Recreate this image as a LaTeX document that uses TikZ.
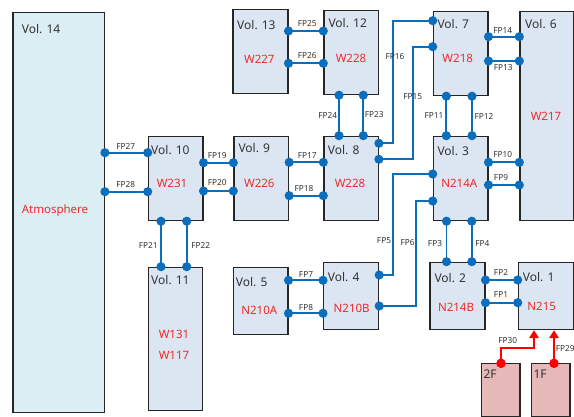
\documentclass[tikz,border=0pt]{standalone}
\usepackage{fontspec}
\setmainfont{Noto Sans}
\usetikzlibrary{arrows.meta}
\definecolor{fpblue}{HTML}{0A6EBD}
\definecolor{boxfill}{HTML}{DCE6F2}
\definecolor{atmfill}{HTML}{DAEEF3}
\definecolor{pinkfill}{HTML}{E6B9B8}
\definecolor{redtext}{HTML}{EE2A2A}
\definecolor{redline}{HTML}{FF0000}
\definecolor{labgray}{HTML}{333333}
\begin{document}
\begin{tikzpicture}[x=1pt,y=-1pt,
 vbox/.style={draw=black!85, line width=1.2pt, fill=boxfill, rectangle, anchor=north west, inner sep=0pt},
 vlab/.style={anchor=west, font=\fontsize{12}{14}\selectfont, text=black!80, inner sep=0pt},
 rlab/.style={font=\fontsize{11.5}{13}\selectfont, text=redtext, inner sep=0pt},
 fpl/.style={font=\fontsize{8.3}{10}\selectfont, text=labgray, inner sep=0pt},
 fp/.style={draw=fpblue, line width=1.9pt, {Circle[length=9pt]}-{Circle[length=9pt]}, shorten <=-4.5pt, shorten >=-4.5pt},
 ff/.style={draw=redline, line width=1.9pt, {Circle[length=9.4pt]}-{Triangle[length=8pt,width=9.5pt]}, shorten <=-4.7pt}
]
\useasboundingbox (0,0) rectangle (574,417);

% boxes
\node[vbox, fill=atmfill, minimum width=91.4pt, minimum height=399.7pt] (v14) at (12.3,12) {};
\node[vbox, minimum width=55pt, minimum height=84.3pt] (v13) at (232.3,9) {};
\node[vbox, minimum width=54.4pt, minimum height=84pt] (v12) at (323.3,10) {};
\node[vbox, minimum width=54.6pt, minimum height=84pt] (v7) at (432.7,11) {};
\node[vbox, minimum width=53.4pt, minimum height=209pt] (v6) at (519.3,11) {};
\node[vbox, minimum width=54.6pt, minimum height=84.3pt] (v10) at (147.7,135.7) {};
\node[vbox, minimum width=54.7pt, minimum height=84.3pt] (v9) at (233.3,135.7) {};
\node[vbox, minimum width=54.4pt, minimum height=84.3pt] (v8) at (323.3,135.7) {};
\node[vbox, minimum width=54.6pt, minimum height=84.3pt] (v3) at (432.7,135.7) {};
\node[vbox, minimum width=54.3pt, minimum height=143.3pt] (v11) at (147.7,266.7) {};
\node[vbox, minimum width=54.6pt, minimum height=67.6pt] (v5) at (232.7,266.7) {};
\node[vbox, minimum width=55pt, minimum height=67.3pt] (v4) at (323,261.7) {};
\node[vbox, minimum width=55pt, minimum height=67.3pt] (v2) at (429.3,261.7) {};
\node[vbox, minimum width=55pt, minimum height=67.3pt] (v1) at (517.7,261.7) {};
\node[vbox, fill=pinkfill, minimum width=38.3pt, minimum height=52.4pt] (f2) at (481,363.3) {};
\node[vbox, fill=pinkfill, minimum width=38.3pt, minimum height=52.4pt] (f1) at (531,363.3) {};

% box labels
\node[vlab] (l14) at (21.7,29) {Vol. 14};
\node[rlab] (r14) at (55,211) {Atmosphere};
\node[vlab] (l13) at (237,25) {Vol. 13};
\node[rlab] (r13) at (259.3,59.3) {W227};
\node[vlab] (l12) at (328.3,23.3) {Vol. 12};
\node[rlab] (r12) at (351,58.7) {W228};
\node[vlab] (l7) at (437.3,24.3) {Vol. 7};
\node[rlab] (r7) at (457.7,58.7) {W218};
\node[vlab] (l6) at (525,24.3) {Vol. 6};
\node[rlab] (r6) at (546,116.7) {W217};
\node[vlab] (l10) at (151,149.7) {Vol. 10};
\node[rlab] (r10) at (172,183) {W231};
\node[vlab] (l9) at (238.3,147.7) {Vol. 9};
\node[rlab] (r9) at (259.3,183.3) {W226};
\node[vlab] (l8) at (327.7,150) {Vol. 8};
\node[rlab] (r8) at (350,183.3) {W228};
\node[vlab] (l3) at (437.3,151) {Vol. 3};
\node[rlab] (r3) at (459.3,183.3) {N214A};
\node[vlab] (l11) at (151,280) {Vol. 11};
\node[rlab] (r11a) at (174,334) {W131};
\node[rlab] (r11b) at (174,355) {W117};
\node[vlab] (l5) at (235.7,281.7) {Vol. 5};
\node[rlab] (r5) at (259.3,310) {N210A};
\node[vlab] (l4) at (327.7,277.3) {Vol. 4};
\node[rlab] (r4) at (351.7,308.3) {N210B};
\node[vlab] (l2) at (434.3,278.3) {Vol. 2};
\node[rlab] (r2) at (456,307.3) {N214B};
\node[vlab] (l1) at (522.7,276.7) {Vol. 1};
\node[rlab] (r1) at (541.7,306.7) {N215};
\node[vlab] (lf2) at (483.3,374) {2F};
\node[vlab] (lf1) at (533.3,374) {1F};

% flow paths
\draw[fp] (v14.east |- 0,152.7) -- (v10.west |- 0,152.7);
\draw[fp] (v14.east |- 0,191.7) -- (v10.west |- 0,191.7);
\draw[fp] (v10.east |- 0,162.7) -- (v9.west |- 0,162.7);
\draw[fp] (v10.east |- 0,191) -- (v9.west |- 0,191);
\draw[fp] (v9.east |- 0,162.3) -- (v8.west |- 0,162.3);
\draw[fp] (v9.east |- 0,195.7) -- (v8.west |- 0,195.7);
\draw[fp] (v13.east |- 0,31) -- (v12.west |- 0,31);
\draw[fp] (v13.east |- 0,63.3) -- (v12.west |- 0,63.3);
\draw[fp] (v12.south -| 339,0) -- (v8.north -| 339,0);
\draw[fp] (v12.south -| 363.3,0) -- (v8.north -| 363.3,0);
\draw[fp] (v8.east |- 0,143.3) -- (392.7,143.3) -- (392.7,20.7) -- (v7.west |- 0,20.7);
\draw[fp] (v8.east |- 0,159.3) -- (412.7,159.3) -- (412.7,46.7) -- (v7.west |- 0,46.7);
\draw[fp] (v7.east |- 0,36.7) -- (v6.west |- 0,36.7);
\draw[fp] (v7.east |- 0,61) -- (v6.west |- 0,61);
\draw[fp] (v7.south -| 446.3,0) -- (v3.north -| 446.3,0);
\draw[fp] (v7.south -| 472,0) -- (v3.north -| 472,0);
\draw[fp] (v3.east |- 0,162.3) -- (v6.west |- 0,162.3);
\draw[fp] (v3.east |- 0,185) -- (v6.west |- 0,185);
\draw[fp] (v10.south -| 161,0) -- (v11.north -| 161,0);
\draw[fp] (v10.south -| 186.7,0) -- (v11.north -| 186.7,0);
\draw[fp] (v5.east |- 0,280.3) -- (v4.west |- 0,280.3);
\draw[fp] (v5.east |- 0,313.3) -- (v4.west |- 0,313.3);
\draw[fp] (v4.east |- 0,275) -- (393.3,275) -- (393.3,174) -- (v3.west |- 0,174);
\draw[fp] (v4.east |- 0,306) -- (415.7,306) -- (415.7,201) -- (v3.west |- 0,201);
\draw[fp] (v3.south -| 446.5,0) -- (v2.north -| 446.5,0);
\draw[fp] (v3.south -| 471.8,0) -- (v2.north -| 471.8,0);
\draw[fp] (v2.east |- 0,280) -- (v1.west |- 0,280);
\draw[fp] (v2.east |- 0,302.7) -- (v1.west |- 0,302.7);
\draw[ff] (f2.north -| 501,0) -- (501,348.3) -- (534,348.3) -- (v1.south -| 534,0);
\draw[ff] (f1.north -| 554,0) -- (v1.south -| 554,0);

% flow path labels
\node[fpl] (t27) at (125.7,146.7) {FP27};
\node[fpl] (t28) at (125.7,184.3) {FP28};
\node[fpl] (t19) at (217.3,155.3) {FP19};
\node[fpl] (t20) at (217.3,182.7) {FP20};
\node[fpl] (t17) at (307.3,155.3) {FP17};
\node[fpl] (t18) at (304,189) {FP18};
\node[fpl] (t25) at (307.3,23.7) {FP25};
\node[fpl] (t26) at (307.3,55.3) {FP26};
\node[fpl] (t24) at (327.7,115.3) {FP24};
\node[fpl] (t23) at (374.3,114.3) {FP23};
\node[fpl] (t16) at (395,57) {FP16};
\node[fpl] (t15) at (412.7,97) {FP15};
\node[fpl] (t14) at (502.7,30.7) {FP14};
\node[fpl] (t13) at (503.3,67.7) {FP13};
\node[fpl] (t11) at (434,116) {FP11};
\node[fpl] (t12) at (484,116) {FP12};
\node[fpl] (t10) at (502.7,154.3) {FP10};
\node[fpl] (t9) at (501,177.3) {FP9};
\node[fpl] (t21) at (148.3,245) {FP21};
\node[fpl] (t22) at (200.7,245) {FP22};
\node[fpl] (t7) at (306,275) {FP7};
\node[fpl] (t8) at (306,307.3) {FP8};
\node[fpl] (t5) at (384,240.7) {FP5};
\node[fpl] (t6) at (407.7,242.7) {FP6};
\node[fpl] (t3) at (435,243.3) {FP3};
\node[fpl] (t4) at (482.3,243.3) {FP4};
\node[fpl] (t2) at (501,272.7) {FP2};
\node[fpl] (t1) at (501,295) {FP1};
\node[fpl] (t30) at (507.7,341) {FP30};
\node[fpl, anchor=west] (t29) at (555.7,349) {FP29};
\end{tikzpicture}
\end{document}
